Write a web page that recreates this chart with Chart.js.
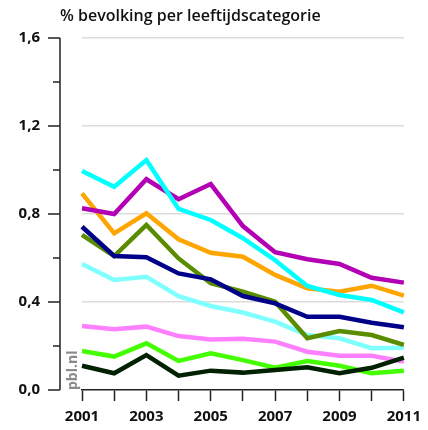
<!DOCTYPE html>
<html lang="nl">
<head>
    <meta charset="UTF-8">
    <title>% bevolking per leeftijdscategorie</title>
    <script src="https://cdn.jsdelivr.net/npm/chart.js"></script>
    <style>
        html, body { margin: 0; padding: 0; background: #fff; }
        #wrap { width: 428px; height: 430px; position: relative; }
    </style>
</head>
<body>
    <div id="wrap"><canvas id="chart"></canvas></div>

    <script>
        // Data
        const years = ['2001', '2002', '2003', '2004', '2005', '2006', '2007', '2008', '2009', '2010', '2011'];
        const yTicks = [0, 0.2, 0.4, 0.6, 0.8, 1.0, 1.2, 1.4, 1.6];

        const magenta   = [0.826, 0.800, 0.958, 0.867, 0.936, 0.745, 0.626, 0.594, 0.573, 0.510, 0.488];
        const cyan      = [0.995, 0.924, 1.045, 0.823, 0.773, 0.690, 0.590, 0.473, 0.432, 0.409, 0.353];
        const orange    = [0.894, 0.712, 0.803, 0.685, 0.624, 0.606, 0.523, 0.462, 0.447, 0.474, 0.429];
        const navy      = [0.742, 0.609, 0.603, 0.530, 0.503, 0.427, 0.394, 0.333, 0.333, 0.306, 0.285];
        const olive     = [0.705, 0.609, 0.750, 0.598, 0.485, 0.447, 0.401, 0.235, 0.268, 0.250, 0.205];
        const lightCyan = [0.573, 0.500, 0.515, 0.427, 0.382, 0.352, 0.311, 0.250, 0.235, 0.190, 0.192];
        const pink      = [0.291, 0.276, 0.288, 0.245, 0.230, 0.233, 0.220, 0.174, 0.156, 0.156, 0.129];
        const green     = [0.177, 0.152, 0.212, 0.132, 0.167, 0.136, 0.101, 0.132, 0.110, 0.076, 0.088];
        const darkGreen = [0.110, 0.076, 0.159, 0.065, 0.088, 0.079, 0.091, 0.103, 0.076, 0.101, 0.147];

        const series = [
            { data: darkGreen, color: '#002200' },
            { data: navy,      color: '#000088' },
            { data: cyan,      color: '#00ffff' },
            { data: magenta,   color: '#b400b4' },
            { data: orange,    color: '#ffa500' },
            { data: olive,     color: '#5a8c00' },
            { data: lightCyan, color: '#80ffff' },
            { data: pink,      color: '#ff80ff' },
            { data: green,     color: '#44ff00' }
        ];

        const isMajor = v => Math.round(v * 10) % 4 === 0;
        const fmt = v => v.toFixed(1).replace('.', ',');

        // title, y axis line with ticks, and the pbl.nl watermark
        const decorations = {
            id: 'decorations',
            afterDraw(chart) {
                const ctx = chart.ctx;
                const y = chart.scales.y;
                const axisX = chart.chartArea.left - 22;
                ctx.save();
                ctx.strokeStyle = '#222';
                ctx.lineWidth = 1.5;
                ctx.beginPath();
                ctx.moveTo(axisX, y.getPixelForValue(yTicks[yTicks.length - 1]));
                ctx.lineTo(axisX, y.getPixelForValue(0));
                yTicks.forEach(v => {
                    const py = y.getPixelForValue(v);
                    ctx.moveTo(axisX, py);
                    ctx.lineTo(axisX - (isMajor(v) ? 12 : 7), py);
                });
                ctx.stroke();

                ctx.fillStyle = '#111';
                ctx.font = '600 16px "Open Sans"';
                ctx.textAlign = 'left';
                ctx.textBaseline = 'alphabetic';
                ctx.fillText('% bevolking per leeftijdscategorie', 60, 21);

                ctx.translate(77, y.getPixelForValue(0));
                ctx.rotate(-Math.PI / 2);
                ctx.fillStyle = '#8a8a8a';
                ctx.font = 'bold 14px "Open Sans"';
                ctx.fillText('pbl.nl', 0, 0);
                ctx.restore();
            }
        };

        new Chart(document.getElementById('chart'), {
            type: 'line',
            data: {
                labels: years,
                datasets: series.map(s => ({
                    data: s.data,
                    borderColor: s.color,
                    backgroundColor: s.color,
                    borderWidth: 4.5,
                    pointRadius: 0,
                    tension: 0,
                    fill: false
                }))
            },
            options: {
                responsive: true,
                maintainAspectRatio: false,
                animation: false,
                layout: { padding: { top: 38, right: 20, left: 0, bottom: 0 } },
                plugins: {
                    legend: { display: false },
                    tooltip: { enabled: false }
                },
                scales: {
                    x: {
                        offset: false,
                        afterFit: s => { s.height = 40; },
                        border: { display: true, color: '#222', width: 1.5 },
                        grid: {
                            drawOnChartArea: false,
                            drawTicks: true,
                            tickLength: 11,
                            tickColor: '#222',
                            tickWidth: 1.5
                        },
                        ticks: {
                            autoSkip: false,
                            maxRotation: 0,
                            padding: 7,
                            color: '#111',
                            font: { family: 'Open Sans', size: 15, weight: 'bold' },
                            callback: (v, i) => (i % 2 === 0 ? years[i] : '')
                        }
                    },
                    y: {
                        min: 0,
                        max: 1.6,
                        // the tick padding would otherwise also shrink the plot vertically
                        afterFit: s => { s.width = 82; s.paddingTop = 0; s.paddingBottom = 0; },
                        afterBuildTicks: s => { s.ticks = yTicks.map(v => ({ value: v })); },
                        border: { display: false },
                        grid: {
                            drawTicks: false,
                            lineWidth: 1.5,
                            color: c => (c.tick && isMajor(c.tick.value) && c.tick.value > 0 ? '#dcdcdc' : 'rgba(0,0,0,0)')
                        },
                        ticks: {
                            padding: 42,
                            color: '#111',
                            font: { family: 'Open Sans', size: 15, weight: 'bold' },
                            callback: v => (isMajor(v) ? fmt(v) : '')
                        }
                    }
                }
            },
            plugins: [decorations]
        });
    </script>
</body>
</html>
